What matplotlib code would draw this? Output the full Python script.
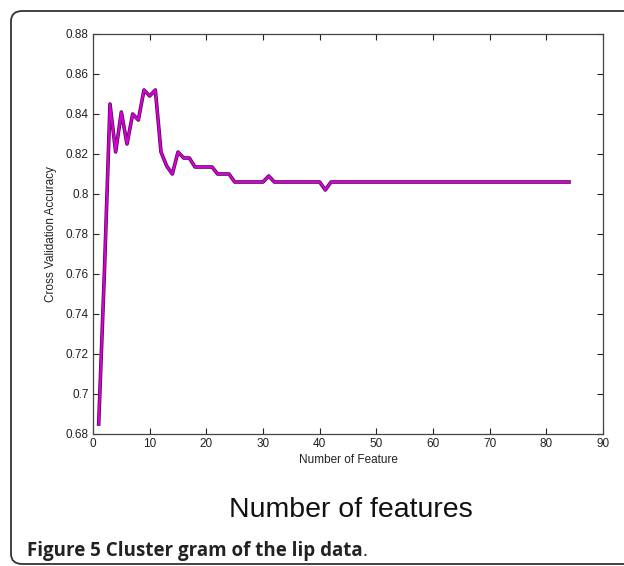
import matplotlib
matplotlib.use("Agg")
import matplotlib.pyplot as plt
from matplotlib.patches import FancyBboxPatch
from matplotlib.ticker import FixedLocator

# ---- data ----
n_features = list(range(1, 85))
accuracy = [
    0.685, 0.760, 0.845, 0.821, 0.841, 0.825, 0.840, 0.837, 0.852, 0.849,   # 1-10
    0.852, 0.821, 0.814, 0.810, 0.821, 0.818, 0.818, 0.8135, 0.8135, 0.8135,  # 11-20
    0.8135, 0.810, 0.810, 0.810, 0.806, 0.806, 0.806, 0.806, 0.806, 0.806,   # 21-30
    0.809, 0.806, 0.806, 0.806, 0.806, 0.806, 0.806, 0.806, 0.806, 0.806,    # 31-40
    0.802, 0.806, 0.806, 0.806, 0.806, 0.806, 0.806, 0.806, 0.806, 0.806,    # 41-50
    0.806, 0.806, 0.806, 0.806, 0.806, 0.806, 0.806, 0.806, 0.806, 0.806,    # 51-60
    0.806, 0.806, 0.806, 0.806, 0.806, 0.806, 0.806, 0.806, 0.806, 0.806,    # 61-70
    0.806, 0.806, 0.806, 0.806, 0.806, 0.806, 0.806, 0.806, 0.806, 0.806,    # 71-80
    0.806, 0.806, 0.806, 0.806,                                              # 81-84
]
x_ticks = [0, 10, 20, 30, 40, 50, 60, 70, 80, 90]
y_ticks = [0.68, 0.70, 0.72, 0.74, 0.76, 0.78, 0.80, 0.82, 0.84, 0.86, 0.88]
y_tick_labels = ["0.68", "0.7", "0.72", "0.74", "0.76", "0.78", "0.8",
                 "0.82", "0.84", "0.86", "0.88"]

W, H = 624, 566
fig = plt.figure(figsize=(W / 100, H / 100), dpi=100)
fig.patch.set_facecolor("white")

# rounded frame around the figure panel (right side runs off the image)
frame = FancyBboxPatch((11 / W, (H - 564) / H), 1.2, (564 - 11) / H,
                       boxstyle="round,pad=0,rounding_size=0.018",
                       transform=fig.transFigure, fill=False,
                       edgecolor="#333333", linewidth=1.3, clip_on=False)
fig.patches.append(frame)

ax_l, ax_r, ax_t, ax_b = 93, 603, 34, 434
ax = fig.add_axes([ax_l / W, (H - ax_b) / H, (ax_r - ax_l) / W, (ax_b - ax_t) / H])

ax.plot(n_features, accuracy, color="#4a0a4a", linewidth=2.6, solid_joinstyle="round")
ax.plot(n_features, accuracy, color="#d400d4", linewidth=1.6, solid_joinstyle="round")

ax.set_xlim(0, 90)
ax.set_ylim(0.68, 0.88)
ax.xaxis.set_major_locator(FixedLocator(x_ticks))
ax.yaxis.set_major_locator(FixedLocator(y_ticks))
ax.set_yticklabels(y_tick_labels)
ax.set_xticklabels([str(v) for v in x_ticks])

tick_font = "Liberation Sans"
ax.tick_params(direction="in", top=True, right=True, length=4, width=0.8,
               labelsize=8.5, colors="#222222", pad=3)
for lab in ax.get_xticklabels() + ax.get_yticklabels():
    lab.set_fontfamily(tick_font)
for s in ax.spines.values():
    s.set_linewidth(0.9)
    s.set_color("#444444")

ax.set_xlabel("Number of Feature", fontsize=8.5, family=tick_font, color="#222222", labelpad=3)
ax.set_ylabel("Cross Validation Accuracy", fontsize=8.5, family=tick_font, color="#222222", labelpad=6)

fig.text(351 / W, 1 - 517 / H, "Number of features", fontsize=20.5, family="Liberation Sans",
         ha="center", va="baseline", color="#111111")
cap = fig.text(27 / W, 1 - 556 / H, "Figure 5 Cluster gram of the lip data", fontsize=13.5,
               family="Open Sans", fontweight="bold", ha="left", va="baseline", color="#222222")
fig.canvas.draw()
bb = cap.get_window_extent()
fig.text(bb.x1 / W, 1 - 556 / H, ".", fontsize=13.5, family="Open Sans",
         ha="left", va="baseline", color="#222222")

fig.savefig("out.png", dpi=100, facecolor="white")
